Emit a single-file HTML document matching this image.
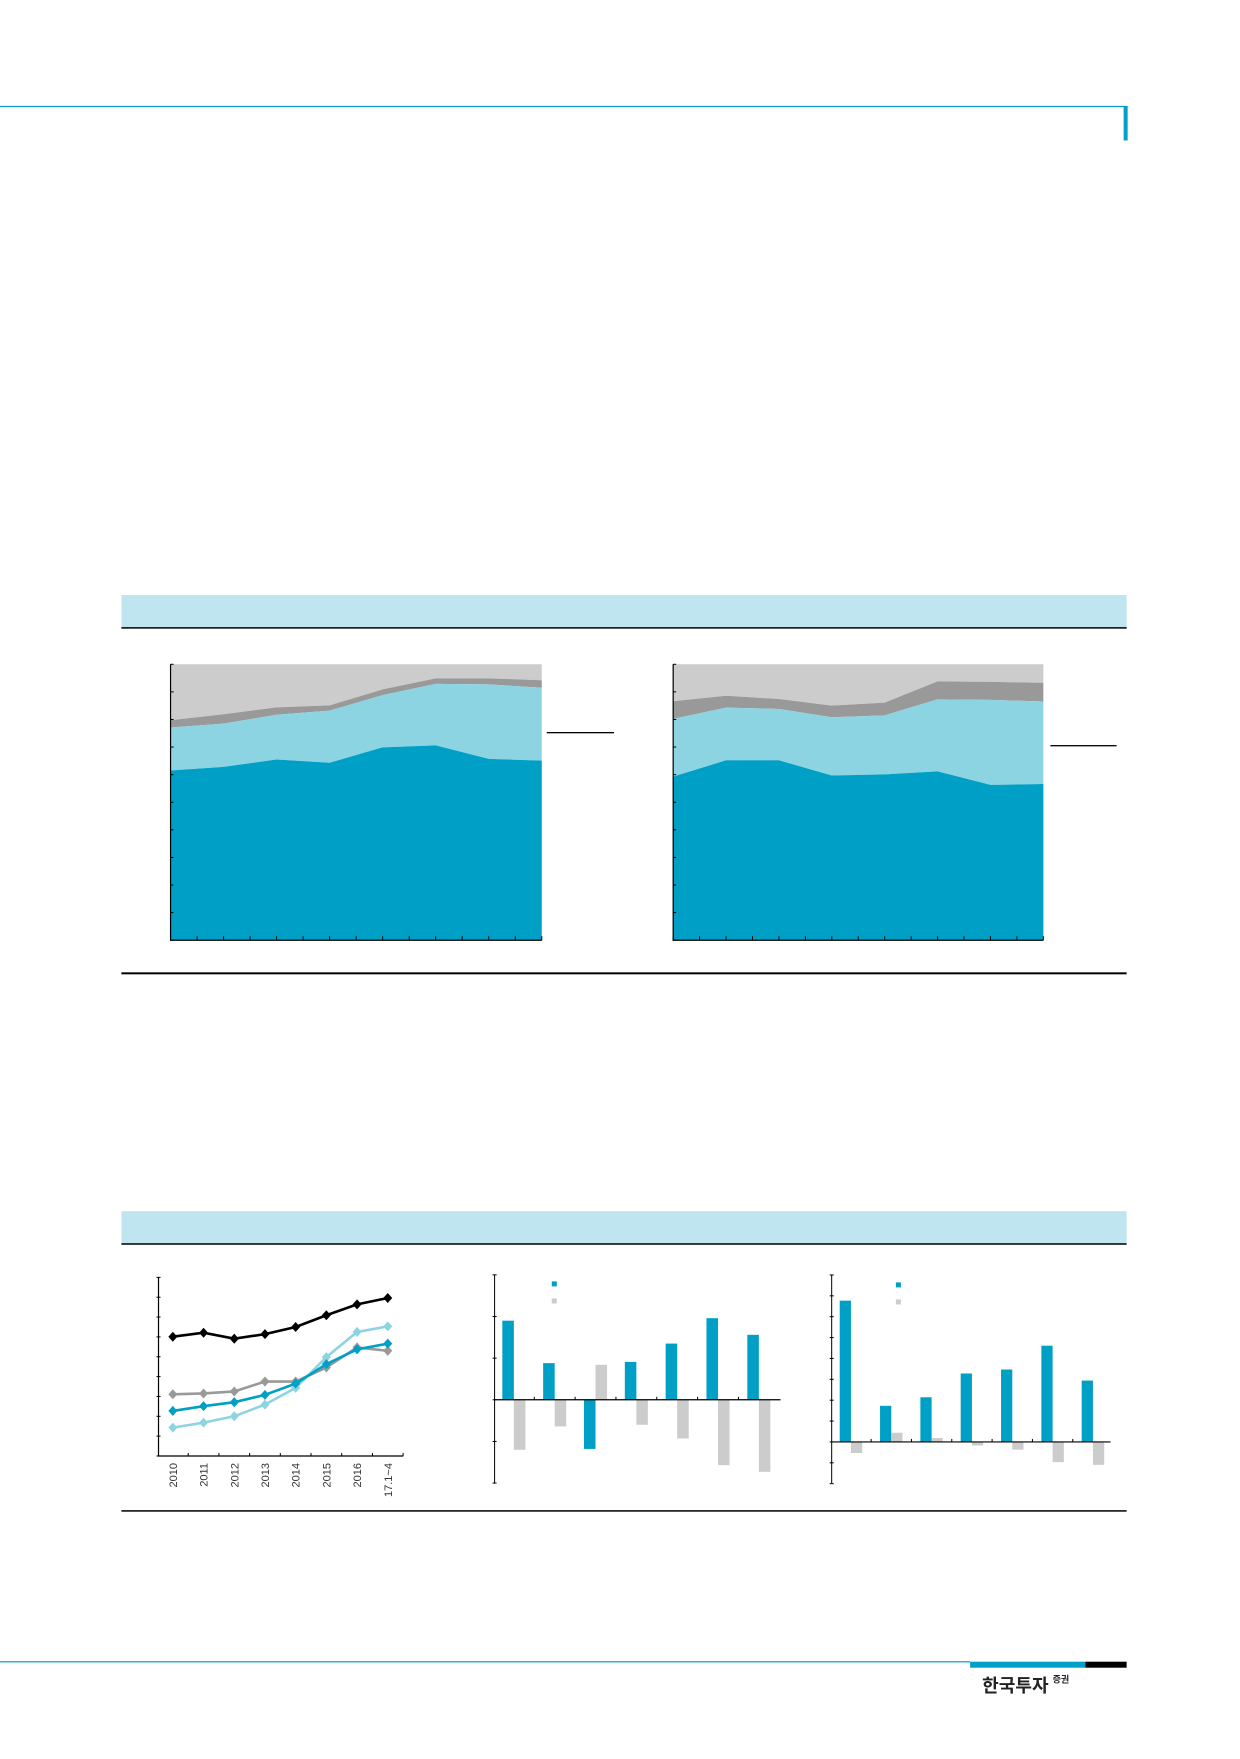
<!DOCTYPE html>
<html><head><meta charset="utf-8"><style>
html,body{margin:0;padding:0;background:#fff;}
body{width:1240px;height:1754px;position:relative;overflow:hidden;font-family:"Liberation Sans","Noto Sans CJK KR",sans-serif;}
</style></head><body>
<svg width="1240" height="1754" viewBox="0 0 1236 1748" preserveAspectRatio="none" xmlns="http://www.w3.org/2000/svg">
<rect x="0" y="105.5" width="1124" height="1.2" fill="#00a0c8"/>
<rect x="1120" y="106" width="4" height="34" fill="#00a0c8"/>

<rect x="121" y="593" width="1002" height="33" fill="#bfe6f0"/>
<rect x="121" y="625" width="1002" height="1.5" fill="#000"/>
<rect x="121" y="969" width="1002" height="2" fill="#000"/>
<g id="area1"></g>
<g id="area2"></g>
<rect x="545" y="729.5" width="67" height="1.3" fill="#000"/>
<rect x="1047" y="742.5" width="66" height="1.3" fill="#000"/>

<rect x="121" y="1207" width="1002" height="33" fill="#bfe6f0"/>
<rect x="121" y="1239" width="1002" height="1.5" fill="#000"/>
<rect x="121" y="1505" width="1002" height="1.5" fill="#000"/>
<g id="line1"></g>
<g id="bar1"></g>
<g id="bar2"></g>

<rect x="0" y="1655.5" width="967" height="1.2" fill="#00a0c8"/>
<rect x="967" y="1656" width="115" height="6" fill="#00a0c8"/>
<rect x="1082" y="1656" width="41" height="6" fill="#000"/>
<text x="979" y="1686" font-size="18" font-weight="bold" fill="#222" font-family="'Noto Sans CJK KR',sans-serif">한국투자<tspan font-size="9" dy="-9" dx="4">증권</tspan></text>
</svg>
<script>
var NS='http://www.w3.org/2000/svg';
function mk(p,t,a){var e=document.createElementNS(NS,t);for(var k in a)e.setAttribute(k,a[k]);p.appendChild(e);return e;}

var areaPeriods=['p1','p2','p3','p4','p5','p6','p7','p8'];
var leftBlueTop=[61.5,62.8,65.5,64.3,69.9,70.6,65.7,65.1];
var leftLightTop=[77.1,78.5,81.7,83.2,88.8,92.9,92.7,91.5];
var leftGrayTop=[79.7,81.9,84.4,85.1,90.9,94.9,94.9,94.2];
var rightBlueTop=[59.3,65.2,65.2,59.7,60.1,61.2,56.3,56.6];
var rightLightTop=[80.2,84.3,83.8,80.8,81.5,87.3,87.1,86.5];
var rightGrayTop=[86.6,88.6,87.4,85.0,86.1,93.8,93.6,93.3];

function areaChart(g,x0,x1,blue,light,gray){
  var y0=937,y1=662,n=areaPeriods.length;
  function X(i){return x0+(x1-x0)*i/(n-1);}
  function Y(v){return y0-(y0-y1)*v/100;}
  function band(top,bot,fill,name){
    var d='M'+X(0)+','+Y(top[0]);
    for(var i=1;i<n;i++)d+=' L'+X(i)+','+Y(top[i]);
    for(var i=n-1;i>=0;i--)d+=' L'+X(i)+','+(bot?Y(bot[i]):y0);
    var p=mk(g,'path',{d:d+'Z',fill:fill});
    
    
  }
  var full=areaPeriods.map(function(){return 100;});
  band(full,gray,'#cccccc','area-other');
  band(gray,light,'#999999','area-dark-gray');
  band(light,blue,'#8dd4e3','area-light-blue');
  band(blue,null,'#00a0c6','area-blue');
  var ax=mk(g,'path',{d:'M'+x0+','+y1+' V'+y0+' H'+x1,stroke:'#000','stroke-width':1.2,fill:'none'});
  
  
  for(var i=0;i<=10;i++){var t=mk(g,'line',{x1:x0,x2:x0+3,y1:Y(i*10),y2:Y(i*10),stroke:'#000','stroke-width':1});
    }
  for(var i=0;i<=14;i++){var xx=x0+(x1-x0)*i/14;var t=mk(g,'line',{x1:xx,x2:xx,y1:y0,y2:y0-4,stroke:'#000','stroke-width':1});
    }
}
areaChart(document.getElementById('area1'),170,540,leftBlueTop,leftLightTop,leftGrayTop);
areaChart(document.getElementById('area2'),671,1040,rightBlueTop,rightLightTop,rightGrayTop);

var lineYears=['2010','2011','2012','2013','2014','2015','2016','17.1~4'];
var lineBlack=[6.01,6.21,5.91,6.14,6.5,7.09,7.64,7.96];
var lineLight=[1.43,1.68,2.0,2.59,3.43,4.98,6.25,6.53];
var lineBlue=[2.27,2.51,2.71,3.08,3.65,4.63,5.37,5.66];
var lineGray=[3.11,3.15,3.25,3.75,3.75,4.46,5.47,5.30];
(function(){
  var g=document.getElementById('line1');
  var x0=158,x1=402,yb=1451,yt=1273;
  function X(i){return 172.3+30.6*i;}
  function Y(v){return yb-(yb-yt)*v/9;}
  var ax=mk(g,'path',{d:'M'+x0+','+yt+' V'+yb+' H'+x1,stroke:'#000','stroke-width':1.2,fill:'none'});
  
  for(var i=0;i<=9;i++){var t=mk(g,'line',{x1:x0-2,x2:x0+2,y1:Y(i),y2:Y(i),stroke:'#000'});
    }
  for(var i=0;i<lineYears.length;i++){
    var t=mk(g,'line',{x1:X(i)+15.3,x2:X(i)+15.3,y1:yb,y2:yb-3,stroke:'#000'});
    
    var tx=mk(g,'text',{x:0,y:0,'font-size':11,fill:'#333','text-anchor':'end',transform:'translate('+(X(i)+4)+','+(yb+7)+') rotate(-90)'});
    tx.textContent=lineYears[i];
    
  }
  function series(vals,col,name){
    var pts=vals.map(function(v,i){return X(i)+','+Y(v);}).join(' ');
    var pl=mk(g,'polyline',{points:pts,fill:'none',stroke:col,'stroke-width':2.6});
    
    vals.forEach(function(v,i){var x=X(i),y=Y(v);
      var m=mk(g,'path',{d:'M'+x+','+(y-5)+' L'+(x+4.5)+','+y+' L'+x+','+(y+5)+' L'+(x-4.5)+','+y+'Z',fill:col});
      });
  }
  series(lineGray,'#999999','gray-series');
  series(lineLight,'#8dd4e3','light-blue-series');
  series(lineBlue,'#00a0c6','blue-series');
  series(lineBlack,'#000000','black-series');
})();

var midCats=['c1','c2','c3','c4','c5','c6','c7'];
var midBlue=[1.90,0.88,-1.18,0.91,1.35,1.96,1.56];
var midGray=[-1.20,-0.64,0.84,-0.60,-0.93,-1.57,-1.73];
var rightCats=['c1','c2','c3','c4','c5','c6','c7'];
var rightBlue=[6.77,1.73,2.14,3.28,3.47,4.61,2.94];
var rightGray=[-0.53,0.44,0.19,-0.17,-0.37,-0.97,-1.1];

function barChart(g,cfg,cats,blue,gray){
  var x0=cfg.x0,x1=cfg.x1,yt=1270.5,yb=1478,zero=cfg.zero,unit=cfg.unit;
  function Y(v){return zero-v*unit;}
  var ax=mk(g,'line',{x1:x0,x2:x0,y1:yt,y2:yb,stroke:'#000','stroke-width':1});
  
  for(var v=cfg.min;v<=cfg.max;v++){var t=mk(g,'line',{x1:x0-2,x2:x0+2,y1:Y(v),y2:Y(v),stroke:'#000'});
    }
  var sp=cfg.sp,w=cfg.w;
  cats.forEach(function(c,i){
    var bx=cfg.start+i*sp;
    var b=mk(g,'rect',{x:bx,width:w,y:Math.min(Y(blue[i]),zero),height:Math.abs(blue[i]*unit),fill:'#00a0c6'});
    
    var r=mk(g,'rect',{x:bx+w,width:w,y:Math.min(Y(gray[i]),zero),height:Math.abs(gray[i]*unit),fill:'#cccccc'});
    
    if(i>0){var t=mk(g,'line',{x1:bx-(sp-2*w)/2,x2:bx-(sp-2*w)/2,y1:zero,y2:zero-3,stroke:'#000'});
      }
  });
  var xa=mk(g,'line',{x1:x0,x2:x1,y1:zero,y2:zero,stroke:'#000','stroke-width':1.2});
  
  var l1=mk(g,'rect',{x:cfg.lx,y:cfg.ly,width:5,height:5,fill:'#00a0c6'});
  
  var l2=mk(g,'rect',{x:cfg.lx,y:cfg.ly+17,width:5,height:5,fill:'#cccccc'});
  
}
barChart(document.getElementById('bar1'),{x0:493,x1:778,zero:1395,unit:41.5,min:-2,max:3,sp:40.7,w:11.5,start:500.7,lx:550,ly:1277},midCats,midBlue,midGray);
barChart(document.getElementById('bar2'),{x0:829,x1:1107,zero:1437,unit:20.8,min:-2,max:8,sp:40.2,w:11.2,start:837,lx:893,ly:1278},rightCats,rightBlue,rightGray);
</script>
</body></html>
